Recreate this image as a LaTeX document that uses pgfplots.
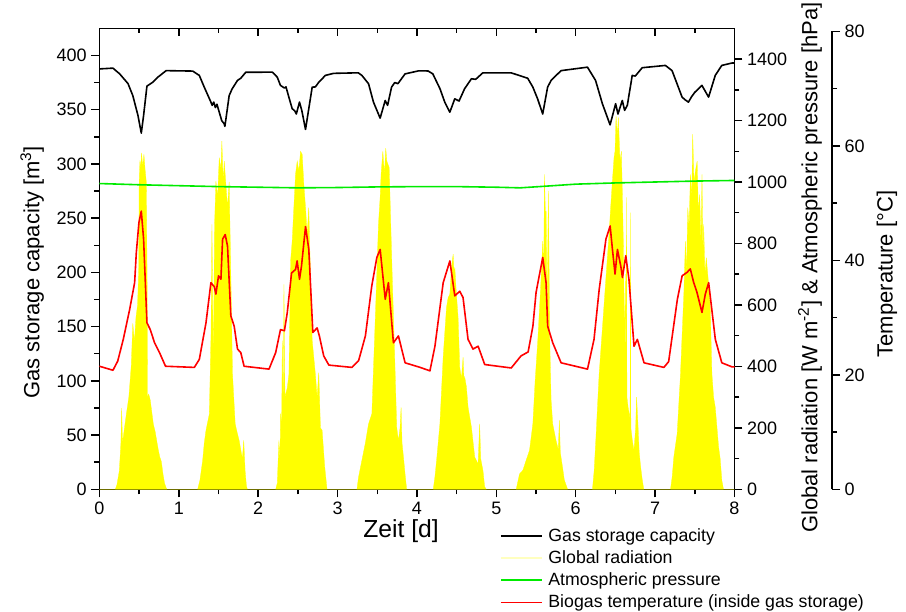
\documentclass[border=0pt]{standalone}
\usepackage{fontspec}
\setmainfont{Liberation Sans}
\usepackage{pgfplots}
\pgfplotsset{compat=1.18}

\definecolor{origgreen}{RGB}{0,235,0}
\definecolor{origred}{RGB}{255,0,0}
\definecolor{origyellow}{RGB}{255,255,0}

\pgfplotstableread{
d v
0.0 387.5
0.025 387.7
0.17 388.3
0.255 383
0.36 374
0.42 363
0.485 344.7
0.527 328.4
0.556 344.7
0.598 371.7
0.673 375.4
0.736 380
0.84 386
1.175 385.6
1.258 381.6
1.32 370.8
1.404 357
1.42 354
1.44 357
1.46 352
1.48 355
1.50 350
1.54 340
1.571 337
1.58 334.6
1.60 345
1.634 363
1.67 369
1.739 377
1.78 379
1.843 384.5
2.178 384.6
2.24 380
2.28 372.4
2.33 370
2.35 371
2.386 361.6
2.428 350.9
2.46 349
2.48 346
2.52 357
2.55 349
2.596 331.8
2.637 350.9
2.68 370.8
2.72 371
2.76 375
2.846 381.6
2.95 383.5
3.26 384
3.306 381.6
3.39 373.9
3.452 357
3.536 342.2
3.6 358.5
3.63 354
3.68 370.8
3.72 375
3.76 374
3.85 383
4.02 385.8
4.14 385.7
4.2 383
4.29 369.3
4.35 357
4.414 347.7
4.476 360
4.53 358
4.6 369.3
4.686 378.5
4.74 378
4.83 384
5.186 384
5.395 379
5.46 370.8
5.52 360
5.584 346
5.646 370.8
5.69 377
5.815 386
6.148 389.2
6.25 377
6.336 355.5
6.433 336
6.503 355.5
6.532 346
6.587 358.5
6.616 349.4
6.65 354
6.712 381.6
6.75 381
6.838 388.7
7.13 390.8
7.214 386
7.34 361.6
7.38 359
7.42 357
7.46 362
7.5 366
7.59 372.4
7.674 361.6
7.758 381.6
7.84 390.8
7.967 393
8.0 393
}\gasdata

\pgfplotstableread{
d T
0.0 21.5
0.17 20.8
0.23 22.4
0.3 26.2
0.38 31.4
0.443 36.1
0.464 41.3
0.497 46.6
0.527 48.6
0.556 43.7
0.598 29.1
0.64 27.9
0.694 25.6
0.756 23.9
0.832 21.5
1.195 21.3
1.258 22.7
1.342 29.1
1.404 36.1
1.446 35.4
1.467 34.1
1.5 37.3
1.53 36.7
1.551 43.7
1.584 44.5
1.613 42.5
1.655 30.3
1.697 28.5
1.739 24.5
1.78 23.9
1.822 21.5
2.136 21.0
2.22 23.9
2.28 27.9
2.33 27.7
2.366 30.9
2.42 37.8
2.47 38.4
2.49 39.9
2.52 36.7
2.545 39.0
2.596 45.9
2.637 41.9
2.688 27.4
2.742 28.2
2.77 26.8
2.825 23.3
2.89 21.7
3.18 21.3
3.265 22.5
3.35 26.8
3.43 35.5
3.494 40.5
3.536 41.9
3.6 33.2
3.64 36.1
3.703 25.6
3.766 26.8
3.85 22.1
4.04 21.3
4.163 20.7
4.226 25.0
4.33 36.1
4.414 39.9
4.476 33.8
4.539 34.6
4.58 33.5
4.643 26.2
4.706 24.5
4.77 25.0
4.853 21.8
5.187 21.2
5.31 23.3
5.4 24.0
5.46 28.5
5.5 34.4
5.584 40.5
5.626 36.1
5.646 28.5
5.71 25.6
5.815 22.1
6.148 21.0
6.23 26.2
6.295 34.9
6.38 43.7
6.433 46.0
6.462 41.9
6.495 37.6
6.525 41.9
6.567 39.0
6.588 37.0
6.63 40.8
6.67 36.7
6.734 25.0
6.776 26.2
6.86 22.1
7.11 21.3
7.17 22.3
7.28 33.2
7.34 37.3
7.402 37.9
7.443 38.5
7.486 36.1
7.527 34.4
7.59 30.9
7.632 34.1
7.674 36.1
7.758 26.2
7.84 22.1
7.967 21.4
8.0 21.4
}\tempdata

\pgfplotstableread{
d P
0 995
0.5 991
1 988
1.5 985
2 983
2.5 981
3 982
3.5 984
4 985
4.5 985
5 983
5.3 981
5.6 986
6 993
6.5 997
7 1000
7.5 1003
8 1005
}\pressdata

\pgfplotstableread{
d R
0 0
0.20 0
0.22 15
0.25 60
0.27 150
0.28 264
0.29 150
0.31 190
0.34 247
0.37 300
0.40 400
0.42 540
0.44 480
0.46 560
0.48 600
0.495 720
0.50 1000
0.51 1070
0.52 1040
0.53 1095
0.545 1050
0.56 1090
0.575 1040
0.59 1000
0.60 700
0.605 300
0.62 310
0.64 290
0.66 250
0.68 210
0.70 190
0.72 160
0.74 130
0.76 105
0.78 90
0.80 50
0.82 20
0.84 5
0.85 0
1.237 0
1.266 30
1.30 94
1.32 150
1.342 192
1.384 245
1.405 500
1.417 862
1.434 400
1.45 860
1.467 1003
1.488 950
1.509 1079
1.53 1040
1.542 1133
1.559 1000
1.572 1068
1.593 992
1.613 917
1.634 1000
1.655 700
1.676 375
1.71 213
1.739 180
1.76 159
1.80 100
1.818 159
1.835 60
1.852 10
1.864 0
2.22 0
2.24 20
2.261 159
2.274 100
2.282 246
2.295 200
2.303 484
2.316 250
2.324 667
2.337 300
2.366 330
2.387 375
2.408 743
2.428 808
2.449 917
2.47 1025
2.491 1068
2.512 1036
2.533 1100
2.554 1090
2.575 992
2.596 917
2.617 830
2.637 917
2.658 700
2.68 484
2.70 430
2.72 375
2.742 300
2.763 380
2.784 200
2.805 192
2.838 73
2.867 0
3.244 0
3.264 40
3.306 94
3.348 148
3.39 213
3.432 246
3.453 400
3.465 484
3.494 700
3.515 862
3.536 950
3.548 1025
3.57 1100
3.59 1025
3.607 1110
3.62 1068
3.65 1047
3.67 862
3.69 678
3.716 462
3.745 202
3.766 159
3.787 200
3.80 267
3.812 150
3.83 105
3.85 50
3.87 0
4.205 0
4.226 40
4.247 94
4.289 213
4.33 430
4.372 592
4.393 624
4.414 635
4.435 722
4.456 765
4.468 700
4.477 722
4.497 635
4.518 560
4.539 397
4.56 360
4.581 430
4.594 350
4.602 365
4.623 333
4.644 267
4.686 202
4.728 105
4.77 83
4.79 213
4.803 100
4.832 60
4.853 8
4.874 0
5.25 0
5.292 50
5.334 62
5.376 95
5.418 127
5.46 213
5.489 354
5.522 484
5.556 646
5.585 808
5.597 700
5.606 1025
5.618 900
5.627 905
5.64 592
5.656 971
5.673 484
5.69 290
5.71 213
5.752 159
5.78 130
5.794 224
5.806 120
5.835 70
5.857 30
5.898 0
6.211 0
6.232 60
6.253 159
6.295 375
6.337 527
6.378 678
6.42 830
6.441 920
6.462 1003
6.483 1080
6.495 1100
6.508 1215
6.525 1150
6.537 1210
6.558 1068
6.575 1100
6.587 971
6.60 800
6.608 624
6.615 450
6.625 700
6.632 375
6.64 950
6.645 300
6.66 267
6.685 230
6.69 900
6.695 200
6.713 160
6.734 127
6.755 200
6.767 300
6.784 213
6.80 120
6.818 73
6.839 30
6.858 0
7.194 0
7.215 40
7.236 105
7.278 181
7.32 375
7.34 500
7.362 635
7.382 808
7.395 700
7.412 917
7.428 850
7.445 1025
7.462 950
7.474 1156
7.49 1000
7.508 1036
7.53 1068
7.545 900
7.562 960
7.578 800
7.591 1025
7.603 750
7.612 862
7.628 700
7.645 754
7.674 668
7.695 592
7.716 375
7.737 300
7.758 267
7.78 200
7.80 138
7.82 100
7.841 29
7.862 0
8 0
}\raddata

\pgfplotsset{
  myaxis/.style={
    scale only axis,
    at={(0,0)}, anchor=south west,
    tick align=outside,
    major tick length=6pt, minor tick length=3.75pt,
    axis line style={-, line width=1.1pt, black},
    every tick/.style={black, line width=1.1pt},
    tick label style={font=\fontsize{13.5}{15}\selectfont},
    label style={font=\fontsize{16.5}{19}\selectfont},
    /pgf/number format/assume math mode=true,
    /pgf/number format/1000 sep={},
    scaled ticks=false,
  },
}

\begin{document}
\begin{tikzpicture}

% left axis + x axis, gas storage
\begin{axis}[myaxis, name=main,
  width=476.25pt, height=345.75pt,
  xmin=0, xmax=8, ymin=0, ymax=425,
  axis x line*=bottom, axis y line*=left,
  xtick={0,1,...,8}, ytick={0,50,...,400},
  minor tick num=1,
  xlabel={Zeit [d]},
  ylabel={Gas storage capacity [m\textsuperscript{3}]},
  xlabel style={at={(axis description cs:0.475,-0.09)}, anchor=center,
    font=\fontsize{18.5}{21}\selectfont},
  ylabel style={at={(axis description cs:-0.106,0.471)}, anchor=center},
  legend style={at={(axis description cs:0.631,-0.081)}, anchor=north west,
    draw=none, fill=none, inner sep=0pt, outer sep=0pt,
    font=\fontsize{13.3}{15}\selectfont,
    nodes={inner sep=0pt, text height=11pt, text depth=3pt},
    row sep=2.6pt},
  legend cell align=left,
  legend image code/.code={\draw[#1] (0pt,0pt) -- (31pt,0pt);},
  /tikz/every odd column/.append style={column sep=4pt},
]
\addplot[black, line width=1.2pt, line join=round] table[x=d, y=v] {\gasdata};
\addlegendentry{Gas storage capacity}
\addlegendimage{color=origyellow!25, line width=1.2pt}
\addlegendentry{Global radiation}
\addlegendimage{color=origgreen, line width=1.2pt}
\addlegendentry{Atmospheric pressure}
\addlegendimage{color=origred, line width=1.2pt}
\addlegendentry{Biogas temperature (inside gas storage)}
\end{axis}

% top edge with inward ticks
\begin{axis}[myaxis,
  at={(main.south west)},
  width=476.25pt, height=345.75pt,
  xmin=0, xmax=8, ymin=0, ymax=1,
  axis x line*=top, axis y line=none,
  tick align=inside,
  xtick={0,1,...,8}, minor x tick num=1,
  xticklabels={},
]
\end{axis}

% radiation and pressure axis
\begin{axis}[myaxis,
  at={(main.south west)},
  width=476.25pt, height=345.75pt,
  xmin=0, xmax=8, ymin=0, ymax=1500,
  axis x line=none, axis y line*=right,
  ytick={0,200,...,1400}, minor y tick num=1,
  ylabel={Global radiation [W m\textsuperscript{-2}] \& Atmospheric pressure [hPa]},
  ylabel style={at={(axis description cs:1.119,0.481)}, anchor=center},
]
\addplot[fill=origyellow, draw=origyellow, line width=0.2pt] table[x=d, y=R] {\raddata} \closedcycle;
\addplot[origgreen, line width=1.2pt] table[x=d, y=P] {\pressdata};
\end{axis}

% temperature axis, offset to the right
\begin{axis}[myaxis,
  at={(main.south west)},
  width=549.4pt, height=343.5pt,
  xmin=0, xmax=9.228, ymin=0, ymax=80,
  axis x line=none, axis y line*=right,
  ytick={0,20,...,80}, minor y tick num=1,
  ylabel={Temperature [°C]},
  ylabel style={at={(axis description cs:1.075,0.47)}, anchor=center},
]
\addplot[origred, line width=1.2pt, line join=round] table[x=d, y=T] {\tempdata};
\end{axis}

% the page is exactly this frame
\pgfresetboundingbox
\path ([shift={(-74.6pt,367pt)}]main.south west) ([shift={(604.9pt,-91.3pt)}]main.south west);
\end{tikzpicture}
\end{document}
